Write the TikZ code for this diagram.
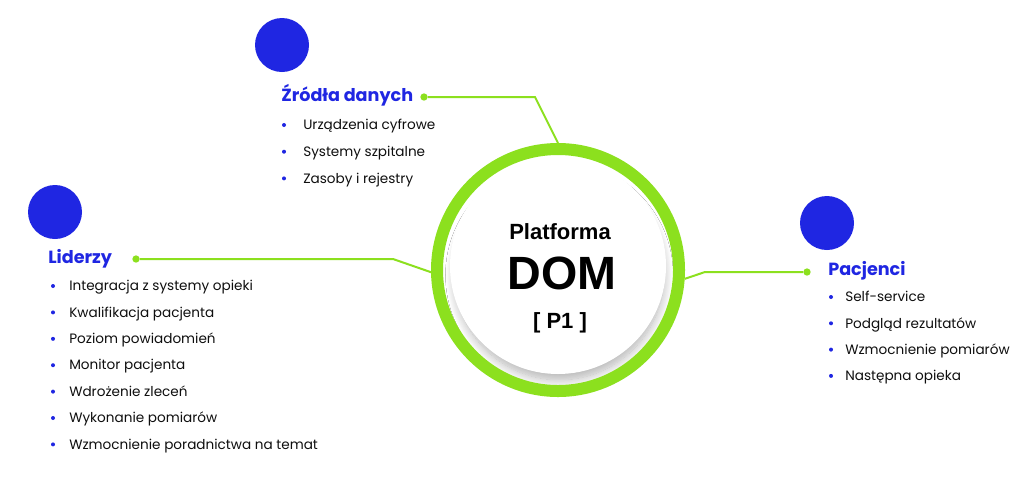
\documentclass[tikz,border=0pt]{standalone}
\usepackage{fontspec}
\setmainfont{Poppins}
\newfontfamily\domfont{Liberation Sans}
\usetikzlibrary{shadows.blur}
\definecolor{dotblue}{RGB}{31,38,226}
\definecolor{limegreen}{RGB}{140,224,30}
\definecolor{itemgray}{RGB}{15,15,15}

\tikzset{
  bigdot/.style={circle, fill=dotblue, minimum size=40.5pt, inner sep=0pt},
  head/.style={anchor=west, inner sep=0.75pt, text height=1.6ex, text depth=0.3ex, text=dotblue, font=\fontsize{13.2}{15}\selectfont\bfseries},
  item/.style={anchor=west, inner sep=0.75pt, text height=1.6ex, text depth=0.3ex, text=itemgray, font=\fontsize{10.2}{12}\selectfont},
  bul/.style={circle, fill=dotblue, inner sep=0pt, minimum size=3pt},
  knob/.style={circle, fill=limegreen, inner sep=0pt, minimum size=5.5pt},
  link/.style={draw=limegreen, line width=1.5pt},
  domtext/.style={inner sep=0.75pt, text=black, font=\domfont\bfseries},
}

\begin{document}
\begin{tikzpicture}[x=0.75pt,y=0.75pt,yscale=-1,xscale=1]
\path[use as bounding box, fill=white] (0,0) rectangle (1024,487);

%Shape: Circle [disc and ring]
\node[circle, fill=white, minimum size=162pt, inner sep=0pt,
      blur shadow={shadow xshift=1pt, shadow yshift=-7pt, shadow scale=0.97, shadow blur radius=7pt, shadow opacity=30, shadow blur steps=16}] (disc) at (558,266) {};
\node[circle, draw=limegreen, line width=9pt, minimum size=181.5pt, inner sep=0pt] (dom) at (558,270) {};

% Text Node
\node[domtext, font=\domfont\bfseries\fontsize{16.5}{18}\selectfont] (plat) at (560,232) {Platforma};
% Text Node
\node[domtext, font=\domfont\bfseries\fontsize{35}{40}\selectfont] (domlbl) at (562,273) {DOM};
% Text Node
\node[domtext, font=\domfont\bfseries\fontsize{16.5}{18}\selectfont] (p1) at (560,323) {[ P1 ]};

%Shape: Circle [blue dots]
\node[bigdot] (zrdot) at (282,45) {};
\node[bigdot] (liddot) at (55,212) {};
\node[bigdot] (pacdot) at (827,223) {};

% Text Node
\node[head] (zrhead) at (280,97) {Źródła danych};
\node[head] (lidhead) at (47,259) {Liderzy};
\node[head] (pachead) at (827,271) {Pacjenci};

%Straight Lines [connectors]
\node[knob] (zrknob) at (424,97) {};
\coordinate (zrbend) at (535,97);
\draw[link] (zrknob) -- (zrbend) -- (dom.90.5);

\node[knob] (lidknob) at (136,259) {};
\coordinate (lidbend) at (393,259);
\draw[link] (lidknob) -- (lidbend) -- (dom.181);

\node[knob] (packnob) at (807,272) {};
\coordinate (pacbend) at (705,272);
\draw[link] (packnob) -- (pacbend) -- (dom.-4.5);

% Lists
\foreach \t [count=\i] in {Urządzenia cyfrowe, Systemy szpitalne, Zasoby i rejestry}{
  \node[bul] (zrb\i) at (284,{125+26.7*(\i-1)}) {};
  \node[item] (zri\i) at (302,{125+26.7*(\i-1)}) {\t};
}
\foreach \t [count=\i] in {Integracja z systemy opieki, Kwalifikacja pacjenta, Poziom powiadomień, Monitor pacjenta, Wdrożenie zleceń, Wykonanie pomiarów, Wzmocnienie poradnictwa na temat}{
  \node[bul] (lidb\i) at (53,{286+26.4*(\i-1)}) {};
  \node[item] (lidi\i) at (68,{286+26.4*(\i-1)}) {\t};
}
\foreach \t [count=\i] in {Self-service, Podgląd rezultatów, Wzmocnienie pomiarów, Następna opieka}{
  \node[bul] (pacb\i) at (831,{297+26.3*(\i-1)}) {};
  \node[item] (paci\i) at (844,{297+26.3*(\i-1)}) {\t};
}

\end{tikzpicture}
\end{document}
